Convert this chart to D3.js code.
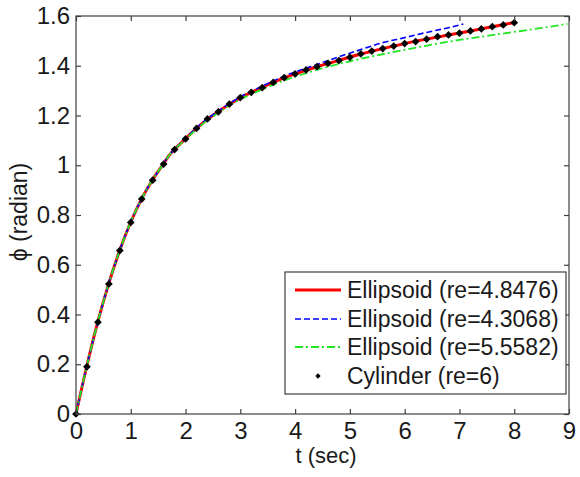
<!DOCTYPE html>
<html>
<head>
<meta charset="utf-8">
<script src="https://cdn.jsdelivr.net/npm/d3@7/dist/d3.min.js"></script>
<style>
  html, body { margin: 0; padding: 0; background: #fff; }
  svg { display: block; }
  text { font-family: "Liberation Sans", Arial, sans-serif; fill: #1a1a1a; }
</style>
</head>
<body>
<svg id="chart" width="580" height="477"></svg>
<script>
// ---- data ----
const xTicks = [0, 1, 2, 3, 4, 5, 6, 7, 8, 9];
const yTicks = [0, 0.2, 0.4, 0.6, 0.8, 1, 1.2, 1.4, 1.6];
const yTickLabels = ["0", "0.2", "0.4", "0.6", "0.8", "1", "1.2", "1.4", "1.6"];

const cylT = [0, 0.2, 0.4, 0.6, 0.8, 1.0, 1.2, 1.4, 1.6, 1.8, 2.0, 2.2, 2.4, 2.6, 2.8, 3.0, 3.2, 3.4, 3.6, 3.8,
              4.0, 4.2, 4.4, 4.6, 4.8, 5.0, 5.2, 5.4, 5.6, 5.8, 6.0, 6.2, 6.4, 6.6, 6.8, 7.0, 7.2, 7.4, 7.6, 7.8, 8.0];
const cylPhi = [0, 0.19, 0.369, 0.523, 0.657, 0.77, 0.864, 0.94, 1.005, 1.063, 1.106, 1.148, 1.186, 1.215, 1.246, 1.272, 1.293, 1.312, 1.333, 1.352,
                1.367, 1.383, 1.396, 1.41, 1.421, 1.434, 1.448, 1.459, 1.469, 1.479, 1.489, 1.497, 1.507, 1.517, 1.524, 1.531, 1.540, 1.548, 1.557, 1.564, 1.573];

const redT = [0, 0.2, 0.4, 0.6, 0.8, 1.0, 1.2, 1.4, 1.6, 1.7, 1.8, 2.0, 2.2, 2.4, 2.6, 2.8, 3.0, 3.2, 3.4, 3.6, 3.8,
              4.0, 4.4, 4.8, 5.2, 5.6, 6.0, 6.4, 6.8, 7.2, 7.6, 8.0];
const redPhi = [0, 0.195, 0.372, 0.526, 0.659, 0.772, 0.866, 0.942, 1.007, 1.04, 1.064, 1.107, 1.148, 1.185, 1.216, 1.245, 1.271, 1.293, 1.313, 1.333, 1.351,
                1.367, 1.396, 1.422, 1.447, 1.469, 1.489, 1.507, 1.524, 1.540, 1.557, 1.574];

const blueT = [0, 0.2, 0.4, 0.6, 0.8, 1.0, 1.2, 1.4, 1.6, 1.7, 1.8, 2.0, 2.2, 2.4, 2.6, 2.8, 3.0, 3.2, 3.4, 3.6, 3.8,
               4.0, 4.4, 4.8, 5.2, 5.6, 6.0, 6.4, 6.8, 7.07];
const bluePhi = [0, 0.195, 0.372, 0.526, 0.659, 0.772, 0.866, 0.942, 1.007, 1.04, 1.064, 1.108, 1.15, 1.187, 1.218, 1.248, 1.275, 1.297, 1.318, 1.339, 1.358,
                 1.375, 1.405, 1.436, 1.465, 1.493, 1.513, 1.534, 1.553, 1.568];

const greenT = [0, 0.2, 0.4, 0.6, 0.8, 1.0, 1.2, 1.4, 1.6, 1.7, 1.8, 2.0, 2.2, 2.4, 2.6, 2.8, 3.0, 3.2, 3.4, 3.6, 3.8,
                4.0, 4.5, 5.0, 5.5, 6.0, 6.5, 7.0, 7.5, 8.0, 8.5, 8.97];
const greenPhi = [0, 0.195, 0.372, 0.526, 0.659, 0.772, 0.866, 0.942, 1.007, 1.04, 1.063, 1.105, 1.145, 1.181, 1.211, 1.24, 1.265, 1.286, 1.305, 1.324, 1.341,
                  1.356, 1.39, 1.418, 1.442, 1.464, 1.485, 1.504, 1.52, 1.536, 1.552, 1.568];

const seriesNames = ["Ellipsoid (re=4.8476)", "Ellipsoid (re=4.3068)", "Ellipsoid (re=5.5582)", "Cylinder (re=6)"];
const seriesColors = ["#ff0000", "#0000ff", "#22e622", "#000000"];

// ---- layout ----
const svg = d3.select("#chart");
const L = 76, T = 16, W = 493, H = 398;
const x = d3.scaleLinear().domain([0, 9]).range([L, L + W]);
const y = d3.scaleLinear().domain([0, 1.6]).range([T + H, T]);
const axisColor = "#404040";

// lines
const line = d3.line().x(d => x(d[0])).y(d => y(d[1])).curve(d3.curveMonotoneX);
const zip = (a, b) => a.map((v, i) => [v, b[i]]);

const g = svg.append("g");
g.append("path").datum(zip(redT, redPhi)).attr("d", line)
  .attr("fill", "none").attr("stroke", seriesColors[0]).attr("stroke-width", 3);
g.append("path").datum(zip(blueT, bluePhi)).attr("d", line)
  .attr("fill", "none").attr("stroke", seriesColors[1]).attr("stroke-width", 1.6)
  .attr("stroke-dasharray", "6,3");
g.append("path").datum(zip(greenT, greenPhi)).attr("d", line)
  .attr("fill", "none").attr("stroke", seriesColors[2]).attr("stroke-width", 1.8)
  .attr("stroke-dasharray", "8,3,2,3");

const diamond = d3.symbol().type(d3.symbolSquare).size(30);
g.selectAll("path.mk").data(zip(cylT, cylPhi)).join("path").attr("class", "mk")
  .attr("d", diamond)
  .attr("transform", d => `translate(${x(d[0])},${y(d[1])}) rotate(45)`)
  .attr("fill", "#000");

// axes box
svg.append("rect").attr("x", L).attr("y", T).attr("width", W).attr("height", H)
  .attr("fill", "none").attr("stroke", axisColor).attr("stroke-width", 1.2);

const tl = 5;
const xb = d3.axisBottom(x).tickValues(xTicks).tickSizeInner(-tl).tickSizeOuter(0).tickPadding(8).tickFormat(d3.format("d"));
const xt = d3.axisTop(x).tickValues(xTicks).tickSizeInner(-tl).tickSizeOuter(0).tickFormat("");
const yl = d3.axisLeft(y).tickValues(yTicks).tickSizeInner(-tl).tickSizeOuter(0).tickPadding(6)
  .tickFormat((d, i) => yTickLabels[i]);
const yr = d3.axisRight(y).tickValues(yTicks).tickSizeInner(-tl).tickSizeOuter(0).tickFormat("");

function styleAxis(sel) {
  sel.select(".domain").remove();
  sel.selectAll(".tick line").attr("stroke", axisColor).attr("stroke-width", 1.2);
  sel.selectAll(".tick text").style("font-size", "24px").attr("fill", "#1a1a1a");
}
svg.append("g").attr("transform", `translate(0,${T + H})`).call(xb).call(styleAxis);
svg.append("g").attr("transform", `translate(0,${T})`).call(xt).call(styleAxis);
svg.append("g").attr("transform", `translate(${L},0)`).call(yl).call(styleAxis);
svg.append("g").attr("transform", `translate(${L + W},0)`).call(yr).call(styleAxis);

// axis labels
svg.append("text").attr("x", 326).attr("y", 463).attr("text-anchor", "middle")
  .style("font-size", "22px").text("t (sec)");
svg.append("text").attr("transform", "translate(27,212) rotate(-90)").attr("text-anchor", "middle")
  .style("font-size", "23px").text("ϕ (radian)");

// legend
const lg = svg.append("g");
lg.append("rect").attr("x", 285).attr("y", 272).attr("width", 281).attr("height", 122)
  .attr("fill", "#fff").attr("stroke", axisColor).attr("stroke-width", 1.2);
const rowY = [290, 319, 347, 376];
const dashes = [null, "6,3", "8,3,2,3", null];
const widths = [3, 1.6, 1.8, 0];
seriesNames.forEach((name, i) => {
  if (i < 3) {
    lg.append("line").attr("x1", 295).attr("x2", 341).attr("y1", rowY[i]).attr("y2", rowY[i])
      .attr("stroke", seriesColors[i]).attr("stroke-width", widths[i])
      .attr("stroke-dasharray", dashes[i]);
  } else {
    lg.append("path").attr("d", d3.symbol().type(d3.symbolSquare).size(14))
      .attr("transform", `translate(318,${rowY[i]}) rotate(45)`).attr("fill", "#000");
  }
  lg.append("text").attr("x", 347).attr("y", rowY[i] + 8).style("font-size", "23px").text(name);
});
</script>
</body>
</html>
